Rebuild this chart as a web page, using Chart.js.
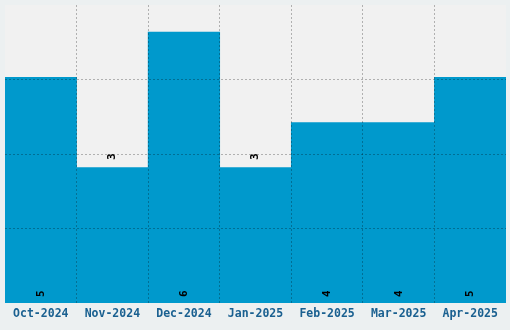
<!DOCTYPE html>
<html>
<head>
<meta charset="utf-8">
<script src="https://cdn.jsdelivr.net/npm/chart.js@4/dist/chart.umd.min.js"></script>
<style>
  body { margin: 0; background: #ecf0f1; }
  canvas { display: block; }
</style>
</head>
<body>
<canvas id="chart" width="510" height="330"></canvas>
<script>
// Data
const months = ["Oct-2024", "Nov-2024", "Dec-2024", "Jan-2025", "Feb-2025", "Mar-2025", "Apr-2025"];
const counts = [5, 3, 6, 3, 4, 4, 5];
const yMax = 6.6;

const gridColor = "rgba(0,0,0,0.27)";
const monoFont = "'DejaVu Sans Mono', monospace";

// light plot background behind the bars
const plotBg = {
  id: "plotBg",
  beforeDraw(chart) {
    const { ctx, chartArea: a } = chart;
    ctx.save();
    ctx.fillStyle = "#f1f1f1";
    ctx.fillRect(a.left, a.top, a.right - a.left, a.bottom - a.top);
    ctx.restore();
  }
};

// rotated value labels
const valueLabels = {
  id: "valueLabels",
  afterDraw(chart) {
    const { ctx } = chart;
    const meta = chart.getDatasetMeta(0);
    ctx.save();
    ctx.font = "bold 11px " + monoFont;
    ctx.fillStyle = "#000";
    ctx.textAlign = "center";
    ctx.textBaseline = "middle";
    meta.data.forEach((bar, i) => {
      const v = counts[i];
      const y = v >= 4 ? bar.base - 9 : bar.y - 11;
      ctx.save();
      ctx.translate(bar.x, y);
      ctx.rotate(-Math.PI / 2);
      ctx.fillText(String(v), 0, 0);
      ctx.restore();
    });
    ctx.restore();
  }
};

new Chart(document.getElementById("chart"), {
  type: "bar",
  data: {
    labels: months,
    datasets: [{
      data: counts,
      backgroundColor: "#0099cc",
      borderWidth: 0,
      categoryPercentage: 1,
      barPercentage: 1
    }]
  },
  options: {
    responsive: false,
    animation: false,
    layout: { padding: { left: 5, right: 4, top: 5, bottom: 5 } },
    plugins: { legend: { display: false }, tooltip: { enabled: false } },
    scales: {
      x: {
        border: { display: false, dash: [2, 2] },
        grid: {
          z: 1,
          drawTicks: false,
          color: c => (c.type !== "tick" || c.index === 0) ? "transparent" : gridColor
        },
        ticks: {
          padding: 4,
          color: "#1a6090",
          font: { family: monoFont, size: 11.5, weight: "bold" },
          maxRotation: 0
        }
      },
      y: {
        min: 0,
        max: yMax,
        border: { display: false, dash: [2, 2] },
        grid: {
          z: 1,
          drawTicks: false,
          color: c => (c.type !== "tick" || c.tick.value === 0 || c.tick.value >= yMax) ? "transparent" : gridColor
        },
        ticks: { display: false, count: 5 }
      }
    }
  },
  plugins: [plotBg, valueLabels]
});
</script>
</body>
</html>
